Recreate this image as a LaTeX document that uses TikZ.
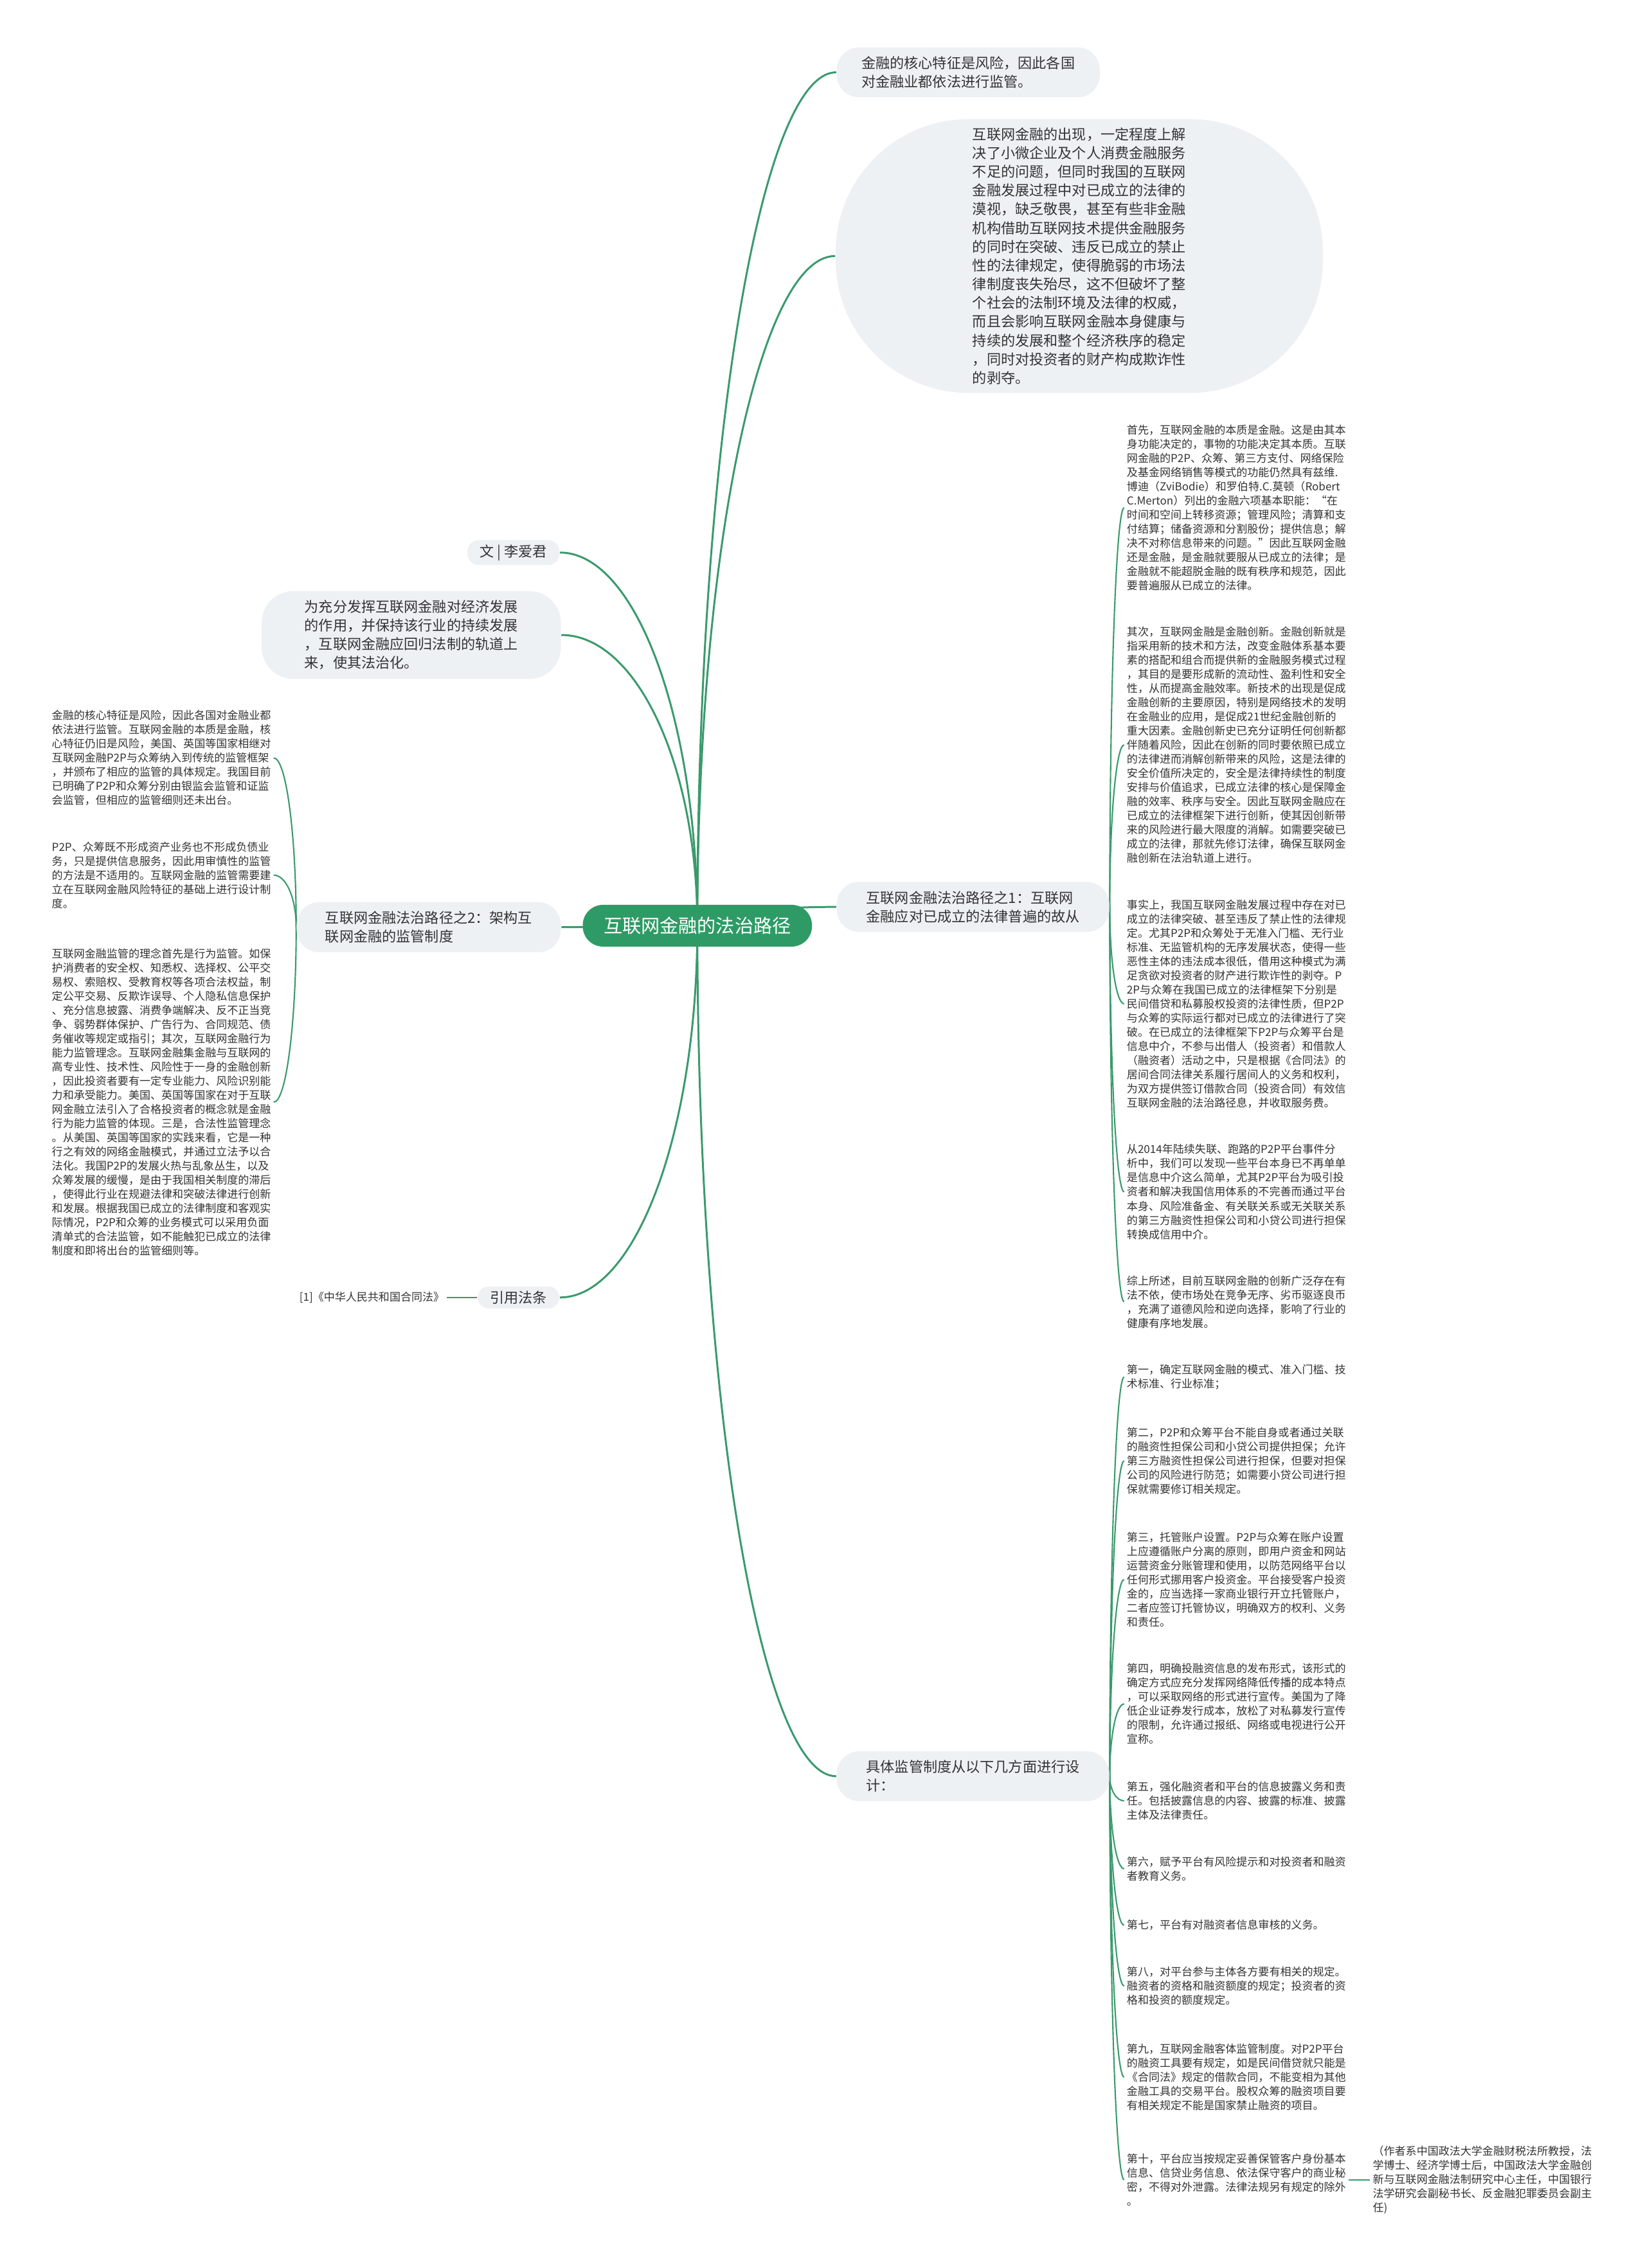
\documentclass[tikz,border=0pt]{standalone}
\usepackage{fontspec}
\setmainfont{Noto Sans CJK SC}
\usetikzlibrary{backgrounds,calc}
\definecolor{rootgreen}{HTML}{2E9B66}
\definecolor{linegreen}{HTML}{3A9A6C}
\definecolor{topicgray}{HTML}{EEF1F4}
\definecolor{textgray}{HTML}{333333}

\begin{document}
\begin{tikzpicture}[x=0.22515mm, y=-0.22515mm,
  root/.style = {fill=rootgreen, text=white, rounded corners=9pt,
    font=\fontsize{8.3}{10}\selectfont, minimum width=101.5pt, minimum height=18.5pt},
  topic/.style = {fill=topicgray, text=textgray, rounded corners=10pt,
    font=\fontsize{6.3}{8.3}\selectfont, align=left, inner xsep=11pt, inner ysep=4pt},
  tag/.style = {topic, inner xsep=5.5pt, inner ysep=2pt, rounded corners=5pt},
  leaf/.style = {text=textgray, font=\fontsize{4.85}{6.27}\selectfont,
    align=left, inner sep=1pt},
  branch/.style = {draw=linegreen, line width=0.85pt},
  twig/.style = {draw=linegreen, line width=0.6pt},
  arclink/.style = {to path={let \p1=(\tikztostart), \p2=(\tikztotarget) in
    .. controls (\x1,{\y1+0.5523*(\y2-\y1)}) and ({\x2-0.5523*(\x2-\x1)},\y2)
    .. (\tikztotarget) \tikztonodes}}]

  \useasboundingbox (0,0) rectangle (1137,1568);

  \node[root] (root) at (482,640) {互联网金融的法治路径};

  \node[topic, anchor=west, minimum width=116pt] (core) at (578,50)
    {金融的核心特征是风险，因此各国\\对金融业都依法进行监管。};
  \node[topic, rounded corners=59pt, minimum width=215.8pt, minimum height=121.3pt,
    inner sep=0pt] (rise) at (746,177)
    {互联网金融的出现，一定程度上解\\
     决了小微企业及个人消费金融服务\\
     不足的问题，但同时我国的互联网\\
     金融发展过程中对已成立的法律的\\
     漠视，缺乏敬畏，甚至有些非金融\\
     机构借助互联网技术提供金融服务\\
     的同时在突破、违反已成立的禁止\\
     性的法律规定，使得脆弱的市场法\\
     律制度丧失殆尽，这不但破坏了整\\
     个社会的法制环境及法律的权威，\\
     而且会影响互联网金融本身健康与\\
     持续的发展和整个经济秩序的稳定\\
     ，同时对投资者的财产构成欺诈性\\
     的剥夺。};
  \node[topic, anchor=west, minimum width=120.7pt] (path1) at (578,627)
    {互联网金融法治路径之1：互联网\\金融应对已成立的法律普遍的故从};
  \node[topic, anchor=west, minimum width=120.7pt] (rules) at (578,1228)
    {具体监管制度从以下几方面进行设\\计：};

  \node[tag, anchor=east] (author) at (387,382) {文 | 李爱君};
  \node[topic, anchor=east, inner xsep=19pt, rounded corners=14pt] (aim) at (388,439)
    {为充分发挥互联网金融对经济发展\\
     的作用，并保持该行业的持续发展\\
     ，互联网金融应回归法制的轨道上\\
     来，使其法治化。};
  \node[topic, anchor=east, minimum width=117pt] (path2) at (388,641)
    {互联网金融法治路径之2：架构互\\联网金融的监管制度};
  \node[tag, anchor=east] (cite) at (387,897) {引用法条};

  \node[leaf, anchor=east] (law) at (309,897) {[1]《中华人民共和国合同法》};

  \node[leaf, anchor=west] (riskleaf) at (34,524)
    {金融的核心特征是风险，因此各国对金融业都\\
     依法进行监管。互联网金融的本质是金融，核\\
     心特征仍旧是风险，美国、英国等国家相继对\\
     互联网金融P2P与众筹纳入到传统的监管框架\\
     ，并颁布了相应的监管的具体规定。我国目前\\
     已明确了P2P和众筹分别由银监会监管和证监\\
     会监管，但相应的监管细则还未出台。};
  \node[leaf, anchor=west] (p2pleaf) at (34,605)
    {P2P、众筹既不形成资产业务也不形成负债业\\
     务，只是提供信息服务，因此用审慎性的监管\\
     的方法是不适用的。互联网金融的监管需要建\\
     立在互联网金融风险特征的基础上进行设计制\\
     度。};
  \node[leaf, anchor=west] (idealeaf) at (34,762)
    {互联网金融监管的理念首先是行为监管。如保\\
     护消费者的安全权、知悉权、选择权、公平交\\
     易权、索赔权、受教育权等各项合法权益，制\\
     定公平交易、反欺诈误导、个人隐私信息保护\\
     、充分信息披露、消费争端解决、反不正当竞\\
     争、弱势群体保护、广告行为、合同规范、债\\
     务催收等规定或指引；其次，互联网金融行为\\
     能力监管理念。互联网金融集金融与互联网的\\
     高专业性、技术性、风险性于一身的金融创新\\
     ，因此投资者要有一定专业能力、风险识别能\\
     力和承受能力。美国、英国等国家在对于互联\\
     网金融立法引入了合格投资者的概念就是金融\\
     行为能力监管的体现。三是，合法性监管理念\\
     。从美国、英国等国家的实践来看，它是一种\\
     行之有效的网络金融模式，并通过立法予以合\\
     法化。我国P2P的发展火热与乱象丛生，以及\\
     众筹发展的缓慢，是由于我国相关制度的滞后\\
     ，使得此行业在规避法律和突破法律进行创新\\
     和发展。根据我国已成立的法律制度和客观实\\
     际情况，P2P和众筹的业务模式可以采用负面\\
     清单式的合法监管，如不能触犯已成立的法律\\
     制度和即将出台的监管细则等。};

  \node[leaf, anchor=west] (firstly) at (777,351)
    {首先，互联网金融的本质是金融。这是由其本\\
     身功能决定的，事物的功能决定其本质。互联\\
     网金融的P2P、众筹、第三方支付、网络保险\\
     及基金网络销售等模式的功能仍然具有兹维.\\
     博迪（ZviBodie）和罗伯特.C.莫顿（Robert\\
     C.Merton）列出的金融六项基本职能：“在\\
     时间和空间上转移资源；管理风险；清算和支\\
     付结算；储备资源和分割股份；提供信息；解\\
     决不对称信息带来的问题。”因此互联网金融\\
     还是金融，是金融就要服从已成立的法律；是\\
     金融就不能超脱金融的既有秩序和规范，因此\\
     要普遍服从已成立的法律。};
  \node[leaf, anchor=west] (secondly) at (777,515)
    {其次，互联网金融是金融创新。金融创新就是\\
     指采用新的技术和方法，改变金融体系基本要\\
     素的搭配和组合而提供新的金融服务模式过程\\
     ，其目的是要形成新的流动性、盈利性和安全\\
     性，从而提高金融效率。新技术的出现是促成\\
     金融创新的主要原因，特别是网络技术的发明\\
     在金融业的应用，是促成21世纪金融创新的\\
     重大因素。金融创新史已充分证明任何创新都\\
     伴随着风险，因此在创新的同时要依照已成立\\
     的法律进而消解创新带来的风险，这是法律的\\
     安全价值所决定的，安全是法律持续性的制度\\
     安排与价值追求，已成立法律的核心是保障金\\
     融的效率、秩序与安全。因此互联网金融应在\\
     已成立的法律框架下进行创新，使其因创新带\\
     来的风险进行最大限度的消解。如需要突破已\\
     成立的法律，那就先修订法律，确保互联网金\\
     融创新在法治轨道上进行。};
  \node[leaf, anchor=west] (infact) at (777,694)
    {事实上，我国互联网金融发展过程中存在对已\\
     成立的法律突破、甚至违反了禁止性的法律规\\
     定。尤其P2P和众筹处于无准入门槛、无行业\\
     标准、无监管机构的无序发展状态，使得一些\\
     恶性主体的违法成本很低，借用这种模式为满\\
     足贪欲对投资者的财产进行欺诈性的剥夺。P\\
     2P与众筹在我国已成立的法律框架下分别是\\
     民间借贷和私募股权投资的法律性质，但P2P\\
     与众筹的实际运行都对已成立的法律进行了突\\
     破。在已成立的法律框架下P2P与众筹平台是\\
     信息中介，不参与出借人（投资者）和借款人\\
     （融资者）活动之中，只是根据《合同法》的\\
     居间合同法律关系履行居间人的义务和权利，\\
     为双方提供签订借款合同（投资合同）有效信\\
     互联网金融的法治路径息，并收取服务费。};
  \node[leaf, anchor=west] (since) at (777,824)
    {从2014年陆续失联、跑路的P2P平台事件分\\
     析中，我们可以发现一些平台本身已不再单单\\
     是信息中介这么简单，尤其P2P平台为吸引投\\
     资者和解决我国信用体系的不完善而通过平台\\
     本身、风险准备金、有关联关系或无关联关系\\
     的第三方融资性担保公司和小贷公司进行担保\\
     转换成信用中介。};
  \node[leaf, anchor=west] (summary) at (777,900)
    {综上所述，目前互联网金融的创新广泛存在有\\
     法不依，使市场处在竞争无序、劣币驱逐良币\\
     ，充满了道德风险和逆向选择，影响了行业的\\
     健康有序地发展。};

  \node[leaf, anchor=west] (one) at (777,952)
    {第一，确定互联网金融的模式、准入门槛、技\\
     术标准、行业标准；};
  \node[leaf, anchor=west] (two) at (777,1010)
    {第二，P2P和众筹平台不能自身或者通过关联\\
     的融资性担保公司和小贷公司提供担保；允许\\
     第三方融资性担保公司进行担保，但要对担保\\
     公司的风险进行防范；如需要小贷公司进行担\\
     保就需要修订相关规定。};
  \node[leaf, anchor=west] (three) at (777,1092)
    {第三，托管账户设置。P2P与众筹在账户设置\\
     上应遵循账户分离的原则，即用户资金和网站\\
     运营资金分账管理和使用，以防范网络平台以\\
     任何形式挪用客户投资金。平台接受客户投资\\
     金的，应当选择一家商业银行开立托管账户，\\
     二者应签订托管协议，明确双方的权利、义务\\
     和责任。};
  \node[leaf, anchor=west] (four) at (777,1178)
    {第四，明确投融资信息的发布形式，该形式的\\
     确定方式应充分发挥网络降低传播的成本特点\\
     ，可以采取网络的形式进行宣传。美国为了降\\
     低企业证券发行成本，放松了对私募发行宣传\\
     的限制，允许通过报纸、网络或电视进行公开\\
     宣称。};
  \node[leaf, anchor=west] (five) at (777,1245)
    {第五，强化融资者和平台的信息披露义务和责\\
     任。包括披露信息的内容、披露的标准、披露\\
     主体及法律责任。};
  \node[leaf, anchor=west] (six) at (777,1292)
    {第六，赋予平台有风险提示和对投资者和融资\\
     者教育义务。};
  \node[leaf, anchor=west] (seven) at (777,1331)
    {第七，平台有对融资者信息审核的义务。};
  \node[leaf, anchor=west] (eight) at (777,1373)
    {第八，对平台参与主体各方要有相关的规定。\\
     融资者的资格和融资额度的规定；投资者的资\\
     格和投资的额度规定。};
  \node[leaf, anchor=west] (nine) at (777,1436)
    {第九，互联网金融客体监管制度。对P2P平台\\
     的融资工具要有规定，如是民间借贷就只能是\\
     《合同法》规定的借款合同，不能变相为其他\\
     金融工具的交易平台。股权众筹的融资项目要\\
     有相关规定不能是国家禁止融资的项目。};
  \node[leaf, anchor=west] (ten) at (777,1507)
    {第十，平台应当按规定妥善保管客户身份基本\\
     信息、信贷业务信息、依法保守客户的商业秘\\
     密，不得对外泄露。法律法规另有规定的除外\\
     。};
  \node[leaf, anchor=west] (note) at (947,1507)
    {（作者系中国政法大学金融财税法所教授，法\\
     学博士、经济学博士后，中国政法大学金融创\\
     新与互联网金融法制研究中心主任，中国银行\\
     法学研究会副秘书长、反金融犯罪委员会副主\\
     任)};

  \begin{scope}[on background layer]
    \fill[white] (0,0) rectangle (1137,1568);
    \foreach \t in {core, rise, path1, rules}
      \draw[branch] (root.center) to[arclink] (\t.west);
    \foreach \t in {author, aim, path2, cite}
      \draw[branch] (root.center) to[arclink] (\t.east);
    \foreach \t in {firstly, secondly, infact, since, summary}
      \draw[twig] (path1.east) to[arclink] (\t.west);
    \foreach \t in {one, two, three, four, five, six, seven, eight, nine, ten}
      \draw[twig] (rules.east) to[arclink] (\t.west);
    \foreach \t in {riskleaf, p2pleaf, idealeaf}
      \draw[twig] (path2.west) to[arclink] (\t.east);
    \draw[twig] (cite.west) -- (law.east);
    \draw[twig] (ten.east) -- (note.west);
  \end{scope}
\end{tikzpicture}
\end{document}
